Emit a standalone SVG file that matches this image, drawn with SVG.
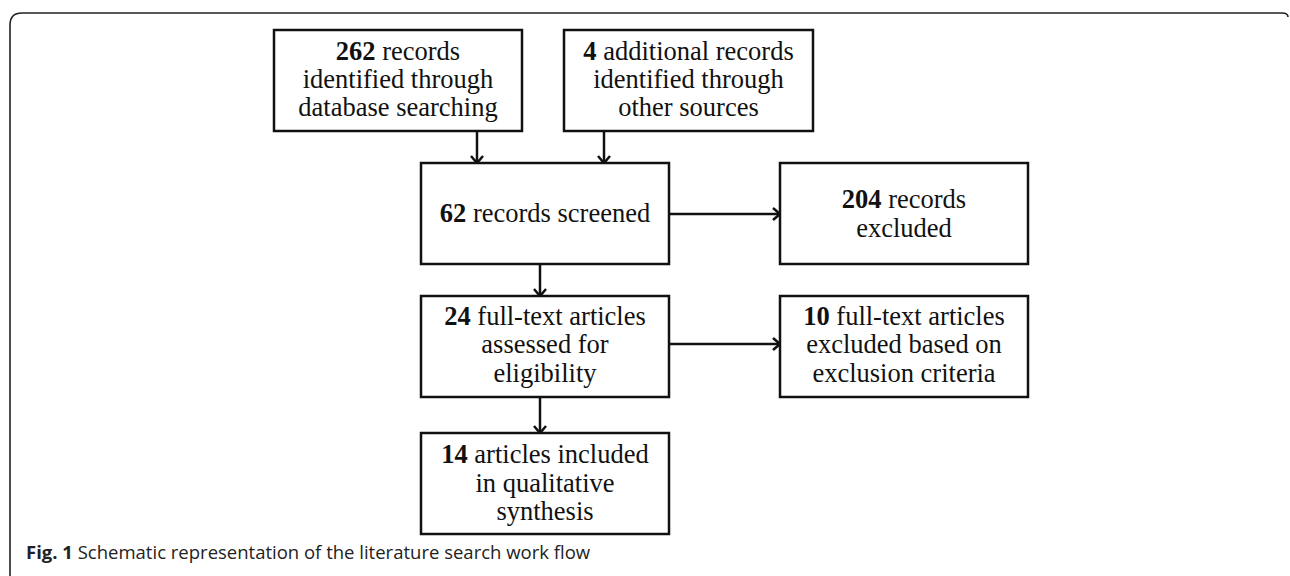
<svg xmlns="http://www.w3.org/2000/svg" width="1290" height="576" viewBox="0 0 1290 576">
<defs>
<style>
.box{fill:#fff;stroke:#111;stroke-width:2.5}
.t{font-family:"Liberation Serif",serif;font-size:26.5px;fill:#111;text-anchor:middle}
.b{font-weight:bold}
.c{stroke:#111;stroke-width:2.5;fill:none}
.cap{font-family:"Open Sans",sans-serif;font-size:18.5px;fill:#222}
</style>
<marker id="ah" markerWidth="12" markerHeight="14" refX="10" refY="7" orient="auto" markerUnits="userSpaceOnUse">
<path d="M3,1 L10,7 L3,13" fill="none" stroke="#111" stroke-width="2.5"/>
</marker>
</defs>
<rect width="1290" height="576" fill="#fff"/>
<path d="M10,576 L10,25 Q10,13 22,13 L1282,13 Q1288,13 1288,17" fill="none" stroke="#222" stroke-width="1.6"/>
<g id="connectors">
<line class="c" x1="477" y1="131" x2="477" y2="163" marker-end="url(#ah)"/>
<line class="c" x1="604" y1="131" x2="604" y2="163" marker-end="url(#ah)"/>
<line class="c" x1="669" y1="214" x2="780" y2="214" marker-end="url(#ah)"/>
<line class="c" x1="540" y1="264" x2="540" y2="296" marker-end="url(#ah)"/>
<line class="c" x1="669" y1="344" x2="780" y2="344" marker-end="url(#ah)"/>
<line class="c" x1="540" y1="397" x2="540" y2="433" marker-end="url(#ah)"/>
</g>
<g id="n1">
<rect class="box" x="274" y="30" width="248" height="101"/>
<text class="t" x="398" y="60"><tspan class="b">262</tspan> records</text>
<text class="t" x="398" y="88">identified through</text>
<text class="t" x="398" y="116">database searching</text>
</g>
<g id="n2">
<rect class="box" x="564" y="30" width="249" height="101"/>
<text class="t" x="688.5" y="60"><tspan class="b">4</tspan> additional records</text>
<text class="t" x="688.5" y="88">identified through</text>
<text class="t" x="688.5" y="116">other sources</text>
</g>
<g id="n3">
<rect class="box" x="421" y="163" width="248" height="101"/>
<text class="t" x="545" y="222"><tspan class="b">62</tspan> records screened</text>
</g>
<g id="n4">
<rect class="box" x="780" y="163" width="248" height="101"/>
<text class="t" x="904" y="208"><tspan class="b">204</tspan> records</text>
<text class="t" x="904" y="237">excluded</text>
</g>
<g id="n5">
<rect class="box" x="421" y="296" width="248" height="101"/>
<text class="t" x="545" y="325"><tspan class="b">24</tspan> full-text articles</text>
<text class="t" x="545" y="353">assessed for</text>
<text class="t" x="545" y="382">eligibility</text>
</g>
<g id="n6">
<rect class="box" x="780" y="296" width="248" height="101"/>
<text class="t" x="904" y="325"><tspan class="b">10</tspan> full-text articles</text>
<text class="t" x="904" y="353">excluded based on</text>
<text class="t" x="904" y="382">exclusion criteria</text>
</g>
<g id="n7">
<rect class="box" x="421" y="433" width="248" height="101"/>
<text class="t" x="545" y="463"><tspan class="b">14</tspan> articles included</text>
<text class="t" x="545" y="492">in qualitative</text>
<text class="t" x="545" y="520">synthesis</text>
</g>
<text class="cap" x="26" y="559"><tspan font-weight="bold">Fig. 1</tspan> Schematic representation of the literature search work flow</text>
</svg>
